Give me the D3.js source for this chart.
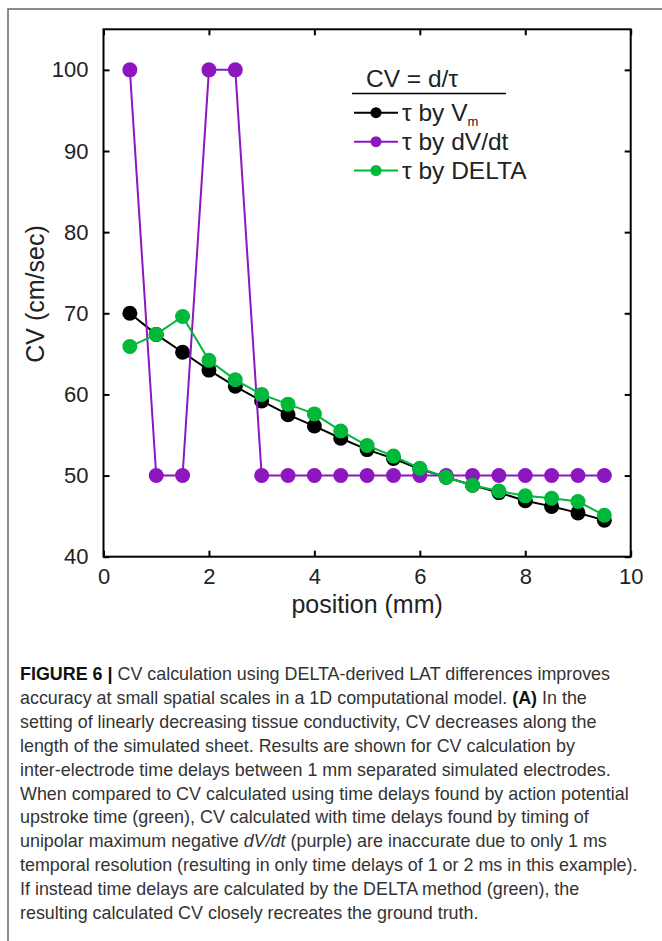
<!DOCTYPE html>
<html>
<head>
<meta charset="utf-8">
<script src="https://cdn.jsdelivr.net/npm/d3@7"></script>
<style>
  html, body { margin: 0; padding: 0; background: #fff; }
  svg { display: block; }
</style>
</head>
<body>
<svg id="chart" width="662" height="941"></svg>
<script>
// ---- data ----
const positions = [0.5, 1, 1.5, 2, 2.5, 3, 3.5, 4, 4.5, 5, 5.5, 6, 6.5, 7, 7.5, 8, 8.5, 9, 9.5];
const cvVm    = [70.0, 67.4, 65.2, 63.0, 61.0, 59.2, 57.5, 56.1, 54.6, 53.2, 52.1, 50.8, 49.8, 48.8, 47.9, 46.9, 46.2, 45.4, 44.5];
const cvDVdt  = [100, 50, 50, 100, 100, 50, 50, 50, 50, 50, 50, 50, 50, 50, 50, 50, 50, 50, 50];
const cvDelta = [65.9, 67.4, 69.6, 64.2, 61.8, 60.0, 58.8, 57.6, 55.5, 53.7, 52.4, 50.9, 49.8, 48.8, 48.1, 47.5, 47.2, 46.8, 45.1];
const seriesNames  = ["τ by V", "τ by dV/dt", "τ by DELTA"];
const seriesColors = ["#000000", "#8c17bf", "#00b83a"];
const xTicks = [0, 2, 4, 6, 8, 10];
const yTicks = [40, 50, 60, 70, 80, 90, 100];
const captionLines = [
  [["b","FIGURE 6 | "],["n","CV calculation using DELTA-derived LAT differences improves"]],
  [["n","accuracy at small spatial scales in a 1D computational model. "],["b","(A)"],["n"," In the"]],
  [["n","setting of linearly decreasing tissue conductivity, CV decreases along the"]],
  [["n","length of the simulated sheet. Results are shown for CV calculation by"]],
  [["n","inter-electrode time delays between 1 mm separated simulated electrodes."]],
  [["n","When compared to CV calculated using time delays found by action potential"]],
  [["n","upstroke time (green), CV calculated with time delays found by timing of"]],
  [["n","unipolar maximum negative "],["i","dV/dt"],["n"," (purple) are inaccurate due to only 1 ms"]],
  [["n","temporal resolution (resulting in only time delays of 1 or 2 ms in this example)."]],
  [["n","If instead time delays are calculated by the DELTA method (green), the"]],
  [["n","resulting calculated CV closely recreates the ground truth."]]
];

const svg = d3.select("#chart");
const FONT = "'Liberation Sans', Arial, Helvetica, sans-serif";

// outer frame (top and left edges)
svg.append("path")
  .attr("d", "M8,941 L8,9 L662,9")
  .attr("fill", "none").attr("stroke", "#666").attr("stroke-width", 1.5);

// plot geometry
const pLeft = 103.5, pRight = 630.7, pTop = 29.3, pBottom = 556.7;
const x = d3.scaleLinear().domain([0, 10]).range([pLeft, pRight]);
const y = d3.scaleLinear().domain([40, 105]).range([pBottom, pTop]);

const g = svg.append("g");

// axes: ticks inward
const tickLen = 6;
const axB = g.append("g").attr("transform", `translate(0,${pBottom})`)
  .call(d3.axisBottom(x).tickValues(xTicks).tickSizeInner(-tickLen).tickSizeOuter(0).tickPadding(12).tickFormat(d3.format("d")));
const axT = g.append("g").attr("transform", `translate(0,${pTop})`)
  .call(d3.axisTop(x).tickValues(xTicks).tickSizeInner(-tickLen).tickSizeOuter(0).tickFormat(""));
const axL = g.append("g").attr("transform", `translate(${pLeft},0)`)
  .call(d3.axisLeft(y).tickValues(yTicks).tickSizeInner(-tickLen).tickSizeOuter(0).tickPadding(15).tickFormat(d3.format("d")));
const axR = g.append("g").attr("transform", `translate(${pRight},0)`)
  .call(d3.axisRight(y).tickValues(yTicks).tickSizeInner(-tickLen).tickSizeOuter(0).tickFormat(""));
[axB, axT, axL, axR].forEach(a => {
  a.select(".domain").remove();
  a.selectAll(".tick line").attr("stroke", "#000").attr("stroke-width", 2);
  a.selectAll(".tick text").attr("font-family", FONT).attr("font-size", 22).attr("fill", "#222");
});
// box
g.append("rect").attr("x", pLeft).attr("y", pTop).attr("width", pRight - pLeft).attr("height", pBottom - pTop)
  .attr("fill", "none").attr("stroke", "#000").attr("stroke-width", 2);

// axis labels
svg.append("text").attr("x", (pLeft + pRight) / 2).attr("y", 613)
  .attr("text-anchor", "middle").attr("font-family", FONT).attr("font-size", 25).attr("fill", "#222")
  .text("position (mm)");
svg.append("text").attr("transform", `translate(44,294) rotate(-90)`)
  .attr("text-anchor", "middle").attr("font-family", FONT).attr("font-size", 25).attr("fill", "#222")
  .text("CV (cm/sec)");

// series
const allSeries = [cvVm, cvDVdt, cvDelta];
const line = d3.line().x((d, i) => x(positions[i])).y(d => y(d));
allSeries.forEach((vals, si) => {
  const sg = g.append("g");
  sg.append("path").datum(vals).attr("d", line)
    .attr("fill", "none").attr("stroke", seriesColors[si]).attr("stroke-width", 2);
  sg.selectAll("circle").data(vals).join("circle")
    .attr("cx", (d, i) => x(positions[i])).attr("cy", d => y(d)).attr("r", 7.5)
    .attr("fill", seriesColors[si]);
});

// legend
const lg = svg.append("g");
lg.append("text").attr("x", 366).attr("y", 87)
  .attr("font-family", FONT).attr("font-size", 24.5).attr("fill", "#222")
  .text("CV = d/τ");
lg.append("line").attr("x1", 352).attr("x2", 506).attr("y1", 93.5).attr("y2", 93.5)
  .attr("stroke", "#000").attr("stroke-width", 1.5);
const rowY = [112.7, 141.7, 170.5];
seriesNames.forEach((name, i) => {
  lg.append("line").attr("x1", 354).attr("x2", 398).attr("y1", rowY[i]).attr("y2", rowY[i])
    .attr("stroke", seriesColors[i]).attr("stroke-width", 2);
  lg.append("circle").attr("cx", 376).attr("cy", rowY[i]).attr("r", 5.5).attr("fill", seriesColors[i]);
  const t = lg.append("text").attr("x", 402).attr("y", rowY[i] + 8.5)
    .attr("font-family", FONT).attr("font-size", 24.5).attr("fill", "#222");
  t.append("tspan").text(name);
  if (i === 0) t.append("tspan").attr("dy", 5).attr("font-size", 13).text("m");
});

// caption
const capStart = 680, capStep = 23.9;
captionLines.forEach((parts, li) => {
  const t = svg.append("text").attr("x", 20).attr("y", capStart + li * capStep)
    .attr("font-family", FONT).attr("font-size", 17.9).attr("fill", "#333");
  parts.forEach(([style, str]) => {
    const ts = t.append("tspan").text(str);
    if (style === "b") ts.attr("font-weight", "bold").attr("fill", "#111");
    if (style === "i") ts.attr("font-style", "italic");
  });
});
</script>
</body>
</html>
